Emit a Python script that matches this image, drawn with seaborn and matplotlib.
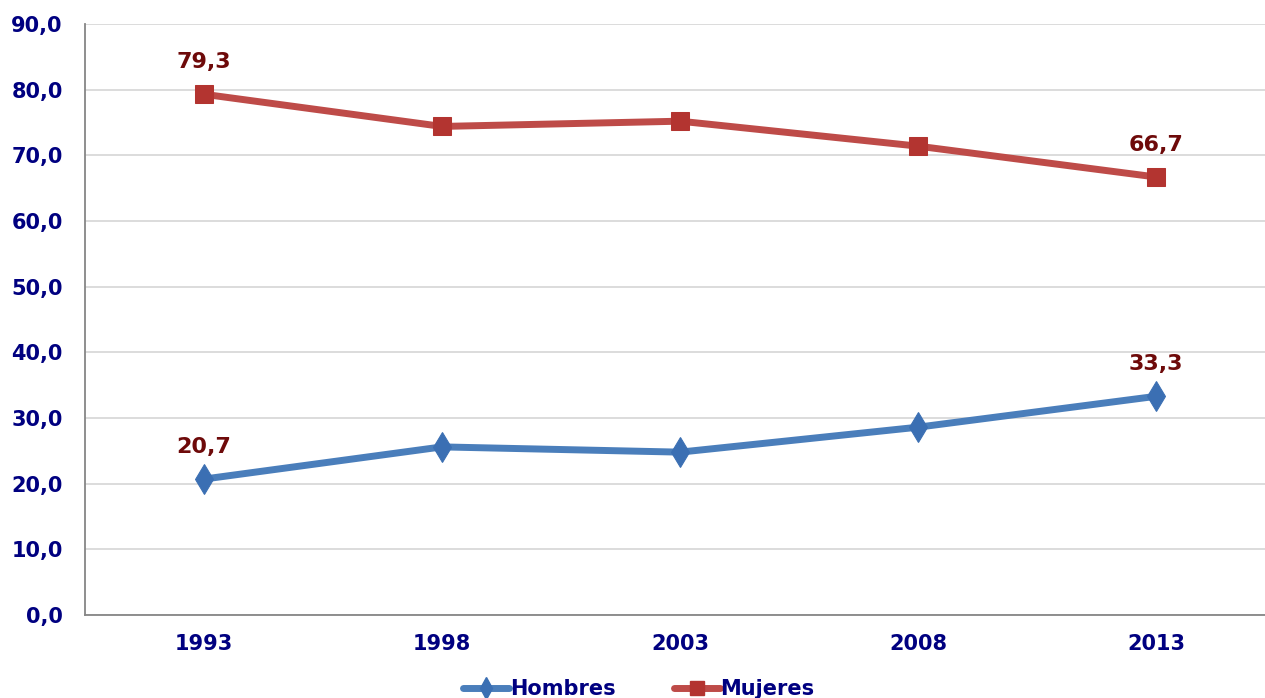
import pandas as pd
import seaborn as sns
import matplotlib.pyplot as plt
from matplotlib.lines import Line2D
from matplotlib.ticker import FixedLocator

# Datos
anios = ["1993", "1998", "2003", "2008", "2013"]
hombres = [20.7, 25.6, 24.8, 28.6, 33.3]
mujeres = [79.3, 74.4, 75.2, 71.4, 66.7]
etiquetas_y = ["0,0", "10,0", "20,0", "30,0", "40,0", "50,0", "60,0", "70,0", "80,0", "90,0"]

azul = "#4A7EBB"
rojo = "#BE4B48"
texto = "#000080"
etiqueta = "#6E0A0A"

df = pd.DataFrame({
    "pos": list(range(len(anios))) * 2,
    "valor": hombres + mujeres,
    "sexo": ["Hombres"] * len(anios) + ["Mujeres"] * len(anios),
})

sns.set_style("white")
plt.rcParams["font.family"] = ["DejaVu Sans"]

fig = plt.figure(figsize=(12.65, 6.98), dpi=100)
ax = fig.add_axes([85 / 1265, 83 / 698, 1190 / 1265, 591 / 698])

sns.lineplot(data=df, x="pos", y="valor", hue="sexo", style="sexo",
             palette={"Hombres": azul, "Mujeres": rojo},
             markers={"Hombres": "d", "Mujeres": "s"}, dashes=False,
             linewidth=5, legend=False, ax=ax)

for ln, ms, mfc in zip(ax.lines, [15, 13.5], ["#3B6FB3", "#B33430"]):
    ln.set_markersize(ms)
    ln.set_markerfacecolor(mfc)
    ln.set_markeredgecolor(mfc)

# etiquetas de datos en los extremos
for serie in (hombres, mujeres):
    for i in (0, len(anios) - 1):
        ax.annotate(f"{serie[i]:.1f}".replace(".", ","), (i, serie[i]),
                    xytext=(0, 23), textcoords="offset points", ha="center", va="center",
                    fontsize=16, fontweight="bold", color=etiqueta)

ax.set_xlim(-0.5, len(anios) - 0.5)
ax.set_ylim(0, 90)
ax.set_yticks(range(0, 91, 10))
ax.set_yticklabels(etiquetas_y)
ax.set_xticks(range(len(anios)))
ax.set_xticklabels(anios)
ax.xaxis.set_minor_locator(FixedLocator([i - 0.5 for i in range(len(anios) + 1)]))
ax.tick_params(axis="x", which="major", length=0, pad=14)
ax.tick_params(axis="x", which="minor", length=6, width=1.2, color="#868686", direction="out")
ax.tick_params(axis="y", length=6, width=1.2, color="#868686", direction="out", pad=10)
for lab in ax.get_xticklabels() + ax.get_yticklabels():
    lab.set_fontsize(15)
    lab.set_fontweight("bold")
    lab.set_color(texto)

ax.grid(axis="y", color="#D9D9D9", linewidth=1.3)
ax.set_axisbelow(True)
for s in ("top", "right"):
    ax.spines[s].set_visible(False)
for s in ("left", "bottom"):
    ax.spines[s].set_color("#868686")
    ax.spines[s].set_linewidth(1.3)
ax.set_xlabel("")
ax.set_ylabel("")

handles = [
    Line2D([], [], color=azul, linewidth=5, marker="d", markersize=11,
           markerfacecolor="#3B6FB3", markeredgecolor="#3B6FB3", solid_capstyle="round"),
    Line2D([], [], color=rojo, linewidth=5, marker="s", markersize=10,
           markerfacecolor="#B33430", markeredgecolor="#B33430", solid_capstyle="round"),
]
leg = fig.legend(handles, ["Hombres", "Mujeres"], loc="center", bbox_to_anchor=(0.505, 9 / 698),
                 ncol=2, frameon=False, handlelength=2.2, handletextpad=0.05, columnspacing=2.8,
                 prop={"size": 15, "weight": "bold"})
for t in leg.get_texts():
    t.set_color(texto)

fig.savefig("out.png", dpi=100)
